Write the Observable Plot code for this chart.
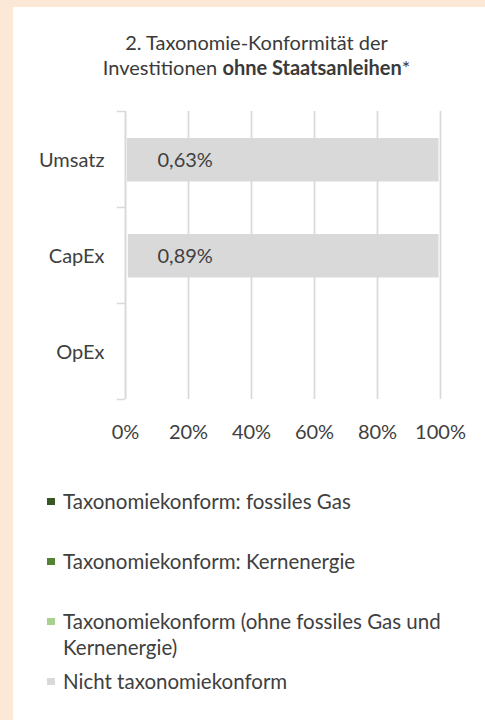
<!DOCTYPE html>
<html>
<head>
<meta charset="utf-8">
<script src="https://cdn.jsdelivr.net/npm/d3@7"></script>
<script src="https://cdn.jsdelivr.net/npm/@observablehq/plot@0.6"></script>
<style>
  html, body { margin: 0; padding: 0; }
  body { width: 485px; height: 720px; background: #FBE8D6; position: relative; overflow: hidden; font-family: Lato, "Open Sans", sans-serif; color: #404040; }
  #panel { position: absolute; left: 13px; top: 7px; right: 0; bottom: 0; background: #ffffff; }
  #title { position: absolute; left: 0; width: 487px; top: 23px; text-align: center; font-size: 20px; line-height: 25px; color: #3a3a3a; }
  #chart { position: absolute; left: 0; top: 81px; }
  #legend { position: absolute; left: 50px; top: 480.6px; width: 410px; font-size: 20.5px; line-height: 26px; color: #404040; }
  .item { position: relative; }
  .item:nth-child(1), .item:nth-child(2) { margin-bottom: 34px; }
  .item:nth-child(3) { margin-bottom: 8px; }
  .sw { position: absolute; left: -16px; top: 10px; width: 7.5px; height: 7.5px; }
</style>
</head>
<body>
<div id="panel">
  <div id="title">2. Taxonomie-Konformität der<br>Investitionen <b>ohne Staatsanleihen</b>*</div>
  <div id="chart"></div>
  <div id="legend"></div>
</div>
<script>
// Data
const categories = ["Umsatz", "CapEx", "OpEx"];
const conformValues = [0.63, 0.89, null];        // % taxonomiekonform
const nonConformValues = [99.37, 99.11, null];   // % nicht taxonomiekonform
const xTicks = [0, 20, 40, 60, 80, 100];
const legendLabels = [
  "Taxonomiekonform: fossiles Gas",
  "Taxonomiekonform: Kernenergie",
  "Taxonomiekonform (ohne fossiles Gas und Kernenergie)",
  "Nicht taxonomiekonform"
];
const legendColors = ["#385723", "#548235", "#A9D18E", "#D9D9D9"];

const rows = categories.map((c, i) => ({
  category: c,
  conform: conformValues[i],
  nonConform: nonConformValues[i]
}));
const barRows = rows.filter(d => d.nonConform != null);
const labelRows = rows.filter(d => d.conform != null);
const fmt = v => v.toFixed(2).replace(".", ",") + "%";
const grey = "#D9D9D9";

const chart = Plot.plot({
  width: 472,
  height: 364,
  marginLeft: 112,
  marginRight: 45,
  marginTop: 23,
  marginBottom: 53,
  style: { fontFamily: "Lato, 'Open Sans', sans-serif", fontSize: "20px", color: "#404040", background: "transparent" },
  x: { domain: [0, 100], label: null },
  y: { domain: categories, padding: 0, label: null },
  marks: [
    Plot.ruleX(xTicks.filter(t => t > 0), { stroke: grey, strokeWidth: 1.75 }),
    Plot.ruleX([0], { stroke: grey, strokeWidth: 2 }),
    Plot.ruleY(categories, { y: d => d, x1: -2.6, x2: 0, dy: -48, stroke: grey, strokeWidth: 1.5 }),
    Plot.ruleY(categories.slice(-1), { y: d => d, x1: -2.6, x2: 0, dy: 48, stroke: grey, strokeWidth: 1.5 }),
    Plot.barX(barRows, {
      y: "category",
      x1: "conform",
      x2: d => d.conform + d.nonConform,
      fill: grey,
      insetTop: 27,
      insetBottom: 25.5,
      insetRight: 1.5
    }),
    Plot.text(labelRows, {
      y: "category",
      x: 0,
      text: d => fmt(d.conform),
      textAnchor: "start",
      dx: 32,
      dy: 1,
      fontSize: 20,
      fill: "#404040"
    }),
    Plot.axisY({ tickSize: 0, tickPadding: 21, dy: 1.5, label: null }),
    Plot.axisX({ ticks: xTicks, tickFormat: d => d + "%", tickSize: 0, tickPadding: 25, label: null })
  ]
});
document.getElementById("chart").appendChild(chart);

const legend = document.getElementById("legend");
legendLabels.forEach((lab, i) => {
  const item = document.createElement("div");
  item.className = "item";
  const sw = document.createElement("span");
  sw.className = "sw";
  sw.style.background = legendColors[i];
  item.appendChild(sw);
  item.appendChild(document.createTextNode(lab));
  legend.appendChild(item);
});
</script>
</body>
</html>
